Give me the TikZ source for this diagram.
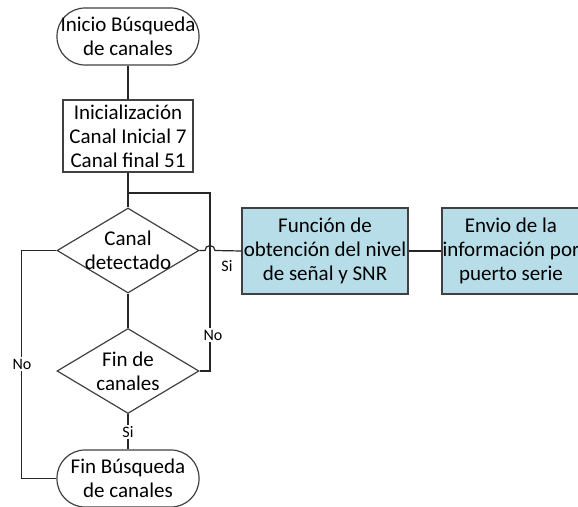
\documentclass[tikz,border=0pt]{standalone}
\usepackage{fontspec}
\setmainfont{Carlito}
\usetikzlibrary{shapes.geometric}
\definecolor{boxblue}{RGB}{183,221,232}
\definecolor{edge}{RGB}{64,64,64}
\tikzset{
  txt/.style={font=\fontsize{21}{24}\selectfont, align=center},
  base/.style={draw=edge, line width=1.2pt, txt, inner sep=0pt},
  term/.style={base, rectangle, rounded corners=28pt, minimum width=142pt, minimum height=57pt},
  procbox/.style={base, rectangle, minimum width=130pt, minimum height=72pt},
  bluebox/.style={base, rectangle, fill=boxblue, minimum height=86pt},
  decision/.style={base, diamond, minimum width=142pt, minimum height=85pt, aspect=1.67},
  conn/.style={draw=black!85, line width=1.2pt},
  lbl/.style={font=\fontsize{16}{18}\selectfont, inner sep=1.5pt},
}
\begin{document}
\begin{tikzpicture}[x=1pt,y=-1pt]
\useasboundingbox (0,0) rectangle (578,506);
\node[term] (start) at (128,36.5) {Inicio Búsqueda\\de canales};
\node[procbox] (init) at (128,136) {Inicialización\\Canal Inicial 7\\Canal final 51};
\node[decision, label={[txt]center:Canal\\detectado}] (cd) at (128,250.5) {};
\node[decision, label={[txt]center:Fin de\\canales}] (fc) at (128,371) {};
\node[term] (fin) at (128,478.5) {Fin Búsqueda\\de canales};
\node[bluebox, minimum width=166pt] (f1) at (325,251) {Función de\\obtención del nivel\\de señal y SNR};
\node[bluebox, minimum width=138pt] (f2) at (511,251) {Envio de la\\información por\\puerto serie};
\coordinate (j) at (128,193);
\coordinate (jr) at (210,193);
\coordinate (hop) at (205,250.5);
\draw[conn] (start) -- (init);
\draw[conn] (init) -- (cd);
\draw[conn] (fc.east) -| (jr) -- (j);
\draw[conn] (cd.east) -- (hop) arc[start angle=180, end angle=360, radius=5] -- (f1.west);
\draw[conn] (f1) -- (f2);
\draw[conn] (cd) -- (fc);
\draw[conn] (fc) -- (fin);
\draw[conn] (cd.west) -- ++(-35,0) |- (fin.west);
\node[lbl, fill=white] (no1) at (22,364) {No};
\node[lbl, fill=white] (no2) at (213,335) {No};
\node[lbl, fill=white] (si2) at (128,432) {Si};
\node[lbl] (si1) at (227,266) {Si};
\end{tikzpicture}
\end{document}
